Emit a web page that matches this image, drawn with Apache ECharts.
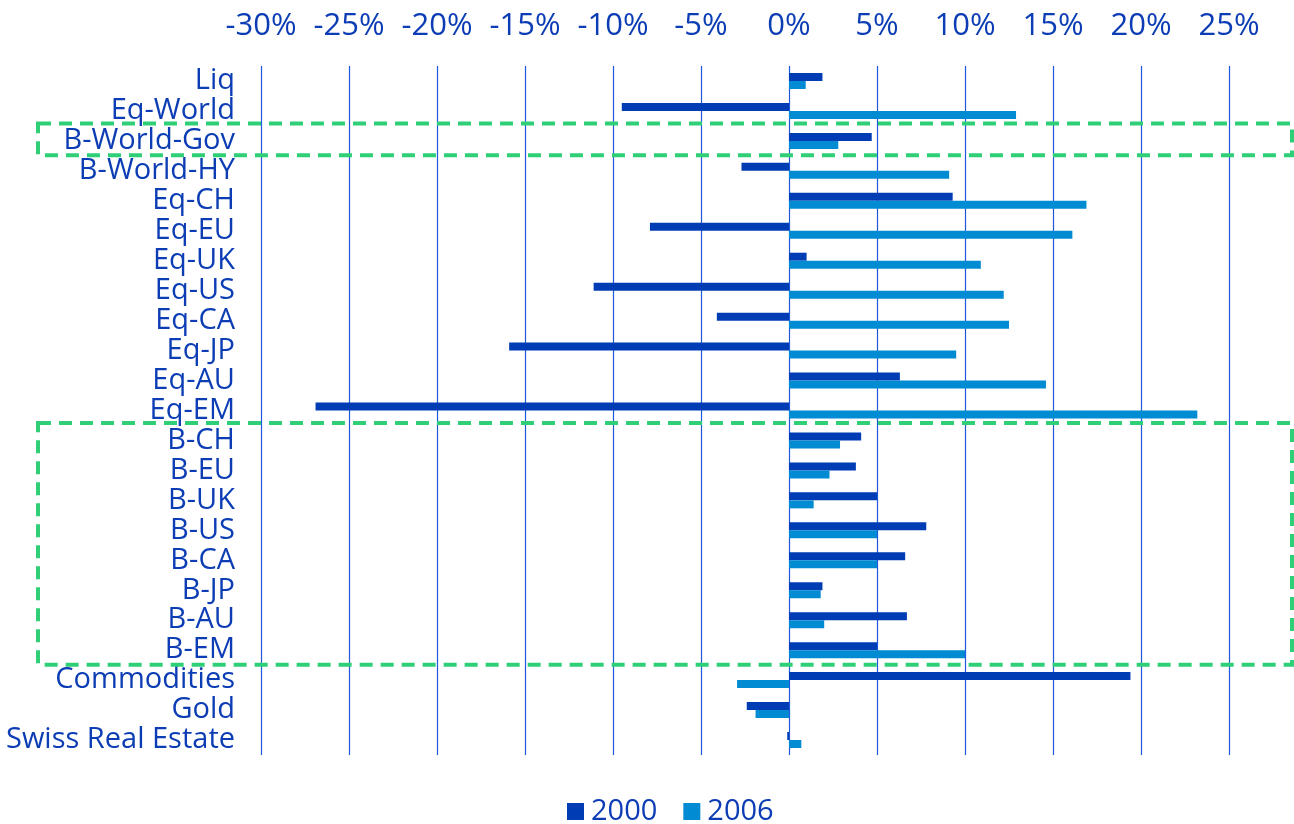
<!DOCTYPE html>
<html>
<head>
<meta charset="utf-8">
<script src="https://cdn.jsdelivr.net/npm/echarts@6/dist/echarts.min.js"></script>
<style>
  html, body { margin: 0; padding: 0; background: #fff; overflow: hidden; }
  /* the drawing runs a little past the right window edge, where the 30% gridline falls */
  #chart { width: 1320px; height: 824px; }
</style>
</head>
<body>
<div id="chart"></div>
<script>
// Asset classes, top to bottom
const categories = [
  'Liq', 'Eq-World', 'B-World-Gov', 'B-World-HY', 'Eq-CH', 'Eq-EU', 'Eq-UK',
  'Eq-US', 'Eq-CA', 'Eq-JP', 'Eq-AU', 'Eq-EM', 'B-CH', 'B-EU', 'B-UK', 'B-US',
  'B-CA', 'B-JP', 'B-AU', 'B-EM', 'Commodities', 'Gold', 'Swiss Real Estate'
];

// Returns in percent
const values2000 = [
  1.9, -9.5, 4.7, -2.7, 9.3, -7.9, 1.0,
  -11.1, -4.1, -15.9, 6.3, -26.9, 4.1, 3.8, 5.0, 7.8,
  6.6, 1.9, 6.7, 5.0, 19.4, -2.4, -0.1
];
const values2006 = [
  0.95, 12.9, 2.8, 9.1, 16.9, 16.1, 10.9,
  12.2, 12.5, 9.5, 14.6, 23.2, 2.9, 2.3, 1.4, 5.0,
  5.0, 1.8, 2.0, 10.0, -2.95, -1.9, 0.7
];

// Axis ticks
const tickMin = -30;
const tickMax = 30;
const tickStep = 5;

// Highlighted groups (first and last category of each)
const groups = [
  ['B-World-Gov', 'B-World-Gov'],
  ['B-CH', 'B-EM']
];

const textColor = '#0c3db4';
const fontFamily = '"Open Sans", "Noto Sans", sans-serif';

const chart = echarts.init(document.getElementById('chart'), null, { renderer: 'canvas' });

chart.setOption({
  animation: false,
  backgroundColor: '#ffffff',
  textStyle: { fontFamily: fontFamily },
  grid: { left: 261, right: 1, top: 66, bottom: 69, containLabel: false },
  legend: {
    data: ['2000', '2006'],
    left: 562,
    top: 792,
    itemWidth: 17,
    itemHeight: 17,
    itemGap: 26,
    icon: 'rect',
    textStyle: { color: textColor, fontSize: 29, fontFamily: fontFamily, padding: [0, 0, 0, 2] }
  },
  xAxis: {
    type: 'value',
    position: 'top',
    min: tickMin,
    max: tickMax,
    interval: tickStep,
    axisLine: { show: false },
    axisTick: { show: false },
    splitLine: { show: true, lineStyle: { color: '#1f58dc', width: 1.2 } },
    axisLabel: {
      color: textColor,
      fontSize: 31,
      fontFamily: fontFamily,
      margin: 24,
      formatter: v => (v === tickMax ? '' : v + '%')
    }
  },
  yAxis: {
    type: 'category',
    data: categories,
    inverse: true,
    axisLine: { show: false },
    axisTick: { show: false },
    splitLine: { show: false },
    axisLabel: {
      color: textColor,
      fontSize: 29,
      fontFamily: fontFamily,
      margin: 26,
      interval: 0
    }
  },
  series: [
    {
      name: '2000',
      type: 'bar',
      data: values2000,
      barWidth: 8,
      barGap: '0%',
      itemStyle: { color: '#003db5' }
    },
    {
      name: '2006',
      type: 'bar',
      data: values2006,
      barWidth: 8,
      barGap: '0%',
      itemStyle: { color: '#008bd3' }
    }
  ]
});

// Dashed frames around the highlighted groups, placed from the category scale
function drawFrames() {
  const y0 = chart.convertToPixel({ yAxisIndex: 0 }, categories[0]);
  const y1 = chart.convertToPixel({ yAxisIndex: 0 }, categories[1]);
  const band = Math.abs(y1 - y0);
  const frames = groups.map((g, i) => {
    const top = chart.convertToPixel({ yAxisIndex: 0 }, g[0]) - band / 2 - 2.5;
    const bottom = chart.convertToPixel({ yAxisIndex: 0 }, g[1]) + band / 2 - 0.5;
    return {
      type: 'rect',
      id: 'frame' + i,
      z: 100,
      shape: { x: 38, y: top, width: 1254, height: bottom - top },
      style: { fill: null, stroke: '#2ecf76', lineWidth: 4, lineDash: [13, 8] },
      silent: true
    };
  });
  chart.setOption({ graphic: frames });
}
drawFrames();
</script>
</body>
</html>
